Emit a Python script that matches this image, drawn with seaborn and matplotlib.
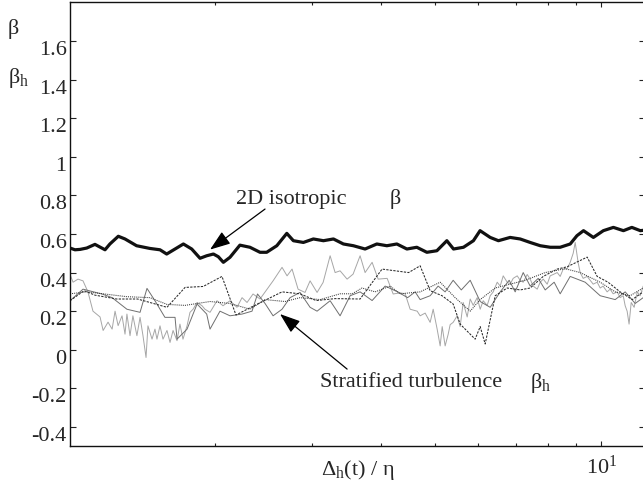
import matplotlib
matplotlib.use("Agg")
import matplotlib.pyplot as plt
import seaborn as sns
from matplotlib.ticker import FixedLocator, NullFormatter
from matplotlib.transforms import ScaledTranslation

# ---- 2D isotropic case: beta versus Delta_h(t)/eta ----
x_iso = [1.096, 1.119, 1.143, 1.175, 1.216, 1.268, 1.294, 1.340, 1.378, 1.446,
         1.528, 1.594, 1.639, 1.697, 1.757, 1.819, 1.883, 1.936, 1.991, 2.032,
         2.075, 2.133, 2.223, 2.318, 2.417, 2.485, 2.592, 2.702, 2.777, 2.895,
         3.018, 3.147, 3.281, 3.420, 3.565, 3.743, 3.930, 4.098, 4.272, 4.454,
         4.642, 4.840, 5.046, 5.260, 5.408, 5.637, 5.875, 6.040, 6.300, 6.520,
         6.845, 7.137, 7.440, 7.760, 8.090, 8.430, 8.790, 9.040, 9.290, 9.680,
         10.09, 10.52, 10.97, 11.36, 11.77, 12.0]
beta_iso = [0.527, 0.518, 0.520, 0.527, 0.546, 0.518, 0.548, 0.588, 0.574, 0.539,
            0.525, 0.518, 0.496, 0.522, 0.548, 0.522, 0.474, 0.487, 0.496, 0.482,
            0.453, 0.479, 0.542, 0.531, 0.505, 0.505, 0.539, 0.603, 0.565, 0.556,
            0.574, 0.565, 0.574, 0.548, 0.539, 0.522, 0.548, 0.539, 0.548, 0.522,
            0.531, 0.505, 0.513, 0.565, 0.522, 0.531, 0.565, 0.617, 0.582, 0.565,
            0.582, 0.574, 0.556, 0.539, 0.531, 0.531, 0.548, 0.591, 0.617, 0.582,
            0.617, 0.634, 0.617, 0.634, 0.617, 0.620]

# ---- stratified turbulence: beta_h for four runs ----
x_run1 = [1.096, 1.110, 1.133, 1.157, 1.181, 1.206, 1.242, 1.258, 1.284, 1.306,
          1.322, 1.339, 1.361, 1.378, 1.389, 1.407, 1.424, 1.448, 1.467, 1.485,
          1.504, 1.516, 1.542, 1.561, 1.574, 1.594, 1.614, 1.641, 1.662, 1.683,
          1.711, 1.732, 1.754, 1.784, 1.806, 1.829, 1.860, 1.899, 1.922, 1.963,
          2.021, 2.072, 2.133, 2.196, 2.243, 2.290, 2.348, 2.417, 2.489, 2.552,
          2.649, 2.705, 2.762, 2.832, 2.915, 2.977, 3.065, 3.143, 3.236, 3.304,
          3.373, 3.473, 3.561, 3.666, 3.743, 3.854, 3.952, 4.103, 4.207, 4.331,
          4.422, 4.515, 4.649, 4.707, 4.806, 4.907, 4.969, 5.052, 5.116, 5.159,
          5.223, 5.289, 5.333, 5.400, 5.491, 5.560, 5.630, 5.725, 5.797, 5.870,
          5.968, 6.043, 6.119, 6.222, 6.300, 6.380, 6.487, 6.568, 6.651, 6.762,
          6.847, 6.933, 7.050, 7.138, 7.228, 7.349, 7.441, 7.535, 7.662, 7.758,
          7.856, 7.987, 8.087, 8.189, 8.327, 8.431, 8.537, 8.680, 8.789, 8.900,
          8.974, 9.087, 9.162, 9.278, 9.433, 9.552, 9.672, 9.834, 9.958, 10.08,
          10.25, 10.38, 10.51, 10.69, 10.82, 10.96, 11.05, 11.14, 11.23, 11.33,
          11.47, 11.62, 11.76, 11.91]
beta_run1 = [0.390, 0.350, 0.366, 0.357, 0.300, 0.200, 0.170, 0.100, 0.143, 0.107,
             0.200, 0.125, 0.176, 0.081, 0.185, 0.073, 0.176, 0.073, 0.168, 0.073,
             -0.040, 0.124, 0.055, 0.107, 0.055, 0.124, 0.055, 0.100, 0.038, 0.100,
             0.047, 0.133, 0.055, 0.124, 0.194, 0.210, 0.245, 0.228, 0.210, 0.194,
             0.254, 0.228, 0.254, 0.220, 0.270, 0.245, 0.289, 0.263, 0.314, 0.357,
             0.427, 0.383, 0.418, 0.314, 0.297, 0.357, 0.297, 0.349, 0.487, 0.400,
             0.409, 0.366, 0.392, 0.487, 0.400, 0.453, 0.366, 0.370, 0.289, 0.295,
             0.290, 0.210, 0.200, 0.176, 0.190, 0.142, 0.210, 0.107, 0.020, 0.120,
             0.020, 0.080, 0.130, 0.142, 0.176, 0.120, 0.245, 0.170, 0.263, 0.230,
             0.270, 0.210, 0.254, 0.230, 0.280, 0.300, 0.350, 0.330, 0.383, 0.350,
             0.340, 0.370, 0.383, 0.360, 0.350, 0.390, 0.366, 0.330, 0.314, 0.350,
             0.366, 0.340, 0.383, 0.390, 0.400, 0.380, 0.418, 0.420, 0.453, 0.500,
             0.556, 0.450, 0.400, 0.370, 0.380, 0.360, 0.340, 0.350, 0.320, 0.330,
             0.300, 0.314, 0.290, 0.300, 0.270, 0.280, 0.228, 0.200, 0.133, 0.245,
             0.220, 0.300, 0.280, 0.330]

x_run2 = [1.096, 1.157, 1.252, 1.306, 1.389, 1.467, 1.510, 1.561, 1.627, 1.697,
          1.711, 1.784, 1.860, 1.936, 1.963, 2.046, 2.133, 2.243, 2.338, 2.392,
          2.468, 2.552, 2.649, 2.739, 2.855, 2.977, 3.065, 3.236, 3.373, 3.517,
          3.666, 3.854, 4.069, 4.286, 4.468, 4.610, 4.707, 4.907, 5.073, 5.223,
          5.400, 5.586, 5.797, 6.043, 6.300, 6.568, 6.818, 6.991, 7.228, 7.441,
          7.694, 7.921, 8.222, 8.431, 8.789, 9.355, 9.958, 10.60, 11.05, 11.52,
          11.91]
beta_run2 = [0.254, 0.314, 0.289, 0.270, 0.210, 0.194, 0.318, 0.254, 0.168, 0.168,
             0.055, 0.107, 0.237, 0.185, 0.107, 0.200, 0.176, 0.185, 0.200, 0.289,
             0.240, 0.176, 0.210, 0.270, 0.297, 0.220, 0.200, 0.254, 0.176, 0.280,
             0.300, 0.255, 0.330, 0.300, 0.270, 0.300, 0.260, 0.280, 0.330, 0.300,
             0.360, 0.310, 0.360, 0.250, 0.220, 0.300, 0.360, 0.300, 0.400, 0.330,
             0.370, 0.310, 0.350, 0.290, 0.380, 0.350, 0.280, 0.260, 0.300, 0.240,
             0.270]

x_run3 = [1.096, 1.162, 1.216, 1.331, 1.452, 1.641, 1.769, 1.908, 2.063, 2.187,
          2.327, 2.649, 2.855, 3.053, 3.304, 3.666, 4.017, 4.486, 4.707, 4.907,
          5.156, 5.400, 5.560, 5.918, 6.043, 6.170, 6.433, 6.762, 7.138, 7.441,
          7.856, 8.327, 8.680, 9.433, 9.834, 10.29, 10.82, 11.38, 11.91]
beta_run3 = [0.254, 0.306, 0.283, 0.263, 0.263, 0.220, 0.323, 0.328, 0.380, 0.180,
             0.220, 0.300, 0.290, 0.255, 0.265, 0.263, 0.418, 0.400, 0.435, 0.306,
             0.280, 0.237, 0.133, 0.055, 0.120, 0.030, 0.280, 0.320, 0.310, 0.320,
             0.380, 0.418, 0.430, 0.480, 0.380, 0.350, 0.300, 0.260, 0.300]

x_run4 = [1.096, 1.176, 1.389, 1.529, 1.641, 1.769, 1.963, 2.133, 2.319, 2.468,
          2.682, 2.855, 3.103, 3.373, 3.547, 3.695, 3.903, 4.154, 4.331, 4.707,
          5.116, 5.445, 5.797, 6.043, 6.433, 6.847, 7.288, 7.921, 8.608, 9.162,
          9.958, 10.60, 11.28, 11.91]
beta_run4 = [0.290, 0.300, 0.275, 0.270, 0.235, 0.230, 0.250, 0.240, 0.210, 0.260,
             0.250, 0.270, 0.260, 0.290, 0.290, 0.320, 0.300, 0.330, 0.290, 0.300,
             0.350, 0.270, 0.200, 0.260, 0.320, 0.340, 0.360, 0.400, 0.420, 0.400,
             0.350, 0.300, 0.280, 0.320]

y_ticks = [-0.4, -0.2, 0.0, 0.2, 0.4, 0.6, 0.8, 1.0, 1.2, 1.4, 1.6]
y_tick_labels = ["-0.4", "-0.2", "0", "0.2", "0.4", "0.6", "0.8", "1", "1.2", "1.4", "1.6"]
x_major = [10]
x_major_labels = ["10$^{1}$"]
x_minor = [2, 3, 4, 5, 6, 7, 8, 9]

sns.set_style("ticks")
plt.rcParams["font.family"] = ["Liberation Serif", "DejaVu Serif"]
plt.rcParams["mathtext.fontset"] = "custom"
plt.rcParams["mathtext.rm"] = "Liberation Serif"
plt.rcParams["mathtext.it"] = "Liberation Serif:italic"
plt.rcParams["font.size"] = 16

fig = plt.figure(figsize=(6.43, 4.89), dpi=100)
ax = fig.add_axes([70 / 643, 41.7 / 489, 575 / 643, 444 / 489])

thin = dict(ax=ax, estimator=None, sort=False, legend=False)
sns.lineplot(x=x_run1, y=beta_run1, color="#a6a6a6", lw=0.7, **thin)
sns.lineplot(x=x_run2, y=beta_run2, color="#6f6f6f", lw=0.7, **thin)
sns.lineplot(x=x_run3, y=beta_run3, color="#2a2a2a", lw=0.75, linestyle=(0, (2.2, 1.2)), **thin)
sns.lineplot(x=x_run4, y=beta_run4, color="#3a3a3a", lw=0.75, linestyle=(0, (1.0, 1.0)), **thin)
sns.lineplot(x=x_iso, y=beta_iso, color="#111111", lw=2.3, **thin)

ax.set_xscale("log")
ax.set_xlim(1.096, 12.0)
ax.set_ylim(-0.5, 1.8)

ax.xaxis.set_major_locator(FixedLocator(x_major))
ax.xaxis.set_minor_locator(FixedLocator(x_minor))
ax.xaxis.set_minor_formatter(NullFormatter())
ax.set_xticklabels(x_major_labels)
ax.set_yticks(y_ticks)
ax.set_yticklabels(y_tick_labels)

ax.tick_params(axis="both", which="both", direction="in", top=True, right=True,
               color="#222222", width=0.8, labelsize=16)
ax.tick_params(axis="y", which="major", length=4.5, pad=2.5)
ax.tick_params(axis="x", which="major", length=3.5, pad=6)
ax.tick_params(axis="x", which="minor", length=2.2)
for side in ax.spines.values():
    side.set_linewidth(1.0)
    side.set_color("#111111")

shift = ScaledTranslation(0, -6 / 100, fig.dpi_scale_trans)
for lab in ax.get_yticklabels():
    lab.set_transform(lab.get_transform() + shift)

ax.set_xlabel("Δ$_{\\rm h}$(t) / η", fontsize=16)
ax.xaxis.set_label_coords(0.5, -0.052)
ax.xaxis.label.set_va("center")

# annotations
arrow = dict(arrowstyle="-|>,head_length=1.25,head_width=0.45", color="black",
             lw=0.9, mutation_scale=10, shrinkA=0, shrinkB=0)
ax.annotate("", xy=(1.963, 0.519), xytext=(2.468, 0.729), arrowprops=arrow)
ax.annotate("", xy=(2.627, 0.185), xytext=(3.473, -0.10), arrowprops=arrow)
ax.text(2.19, 0.785, "2D isotropic", fontsize=16, va="center", ha="left")
ax.text(4.24, 0.785, "β", fontsize=16, va="center", ha="center")
ax.text(3.103, -0.163, "Stratified turbulence", fontsize=16, va="center", ha="left")
ax.text(7.44, -0.165, "β$_{\\rm h}$", fontsize=16, va="center", ha="left")

fig.text(8 / 643, 1 - 29 / 489, "β", fontsize=16, va="center", ha="left")
fig.text(8 / 643, 1 - 78 / 489, "β$_{\\rm h}$", fontsize=16, va="center", ha="left")

fig.savefig("out.png", dpi=100)
